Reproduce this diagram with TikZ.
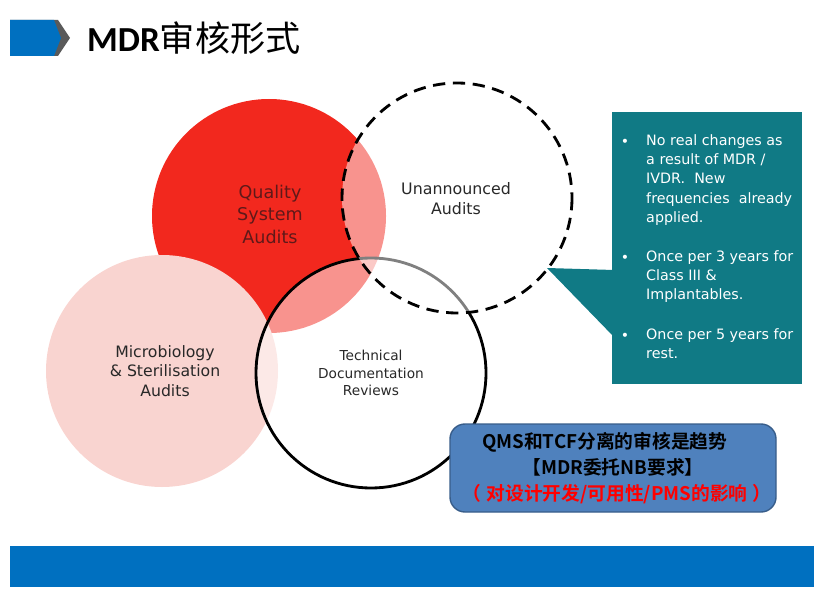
\documentclass[tikz,border=0pt]{standalone}
\usepackage{fontspec}
\setmainfont{DejaVu Sans}
\newfontfamily\cjk{Noto Sans CJK SC}[BoldFont={Noto Sans CJK SC Bold}]
\newfontfamily\carlito{Carlito}

\definecolor{titleblue}{RGB}{0,112,192}
\definecolor{chevgray}{RGB}{90,90,90}
\definecolor{qsared}{RGB}{242,40,30}
\definecolor{micpink}{RGB}{249,212,208}
\definecolor{infoteal}{RGB}{16,122,133}
\definecolor{notefill}{RGB}{79,129,189}
\definecolor{noteline}{RGB}{56,93,138}
\definecolor{textgray}{RGB}{40,40,40}
\definecolor{qsatext}{RGB}{95,25,25}

\begin{document}
\begin{tikzpicture}[x=0.03cm,y=-0.03cm,
    venntext/.style={align=center,inner sep=0pt,text=textgray,font=\fontsize{13.5}{17}\selectfont},
    infotext/.style={align=left,inner sep=0pt,text=white,font=\fontsize{12.2}{16.5}\selectfont},
    bulletdot/.style={inner sep=0pt,text=white,font=\fontsize{12}{12}\selectfont}]
\useasboundingbox (0,0) rectangle (820,595);
% title
\fill[chevgray] (10,20) -- (58,20) -- (70,38) -- (58,56) -- (10,56) -- cycle;
\fill[titleblue] (10,20) -- (54,20) -- (61,38) -- (54,56) -- (10,56) -- cycle;
\node[anchor=base west,inner sep=0pt,font=\fontsize{30}{36}\selectfont] (title) at (87,52)
    {{\carlito\bfseries MDR}{\cjk 审核形式}};
% circles
\fill[qsared] (269,216) circle (117);
\fill[micpink] (162,371) circle (116);
\filldraw[fill=white,fill opacity=0.5,draw=black,line width=2.4pt] (371,373) circle (115);
\filldraw[fill=white,fill opacity=0.5,draw=black,line width=2.4pt,
    dash pattern=on 10.5pt off 6.5pt] (457,198) circle (115);
\node[venntext,text=qsatext,font=\fontsize{15}{19.2}\selectfont] (qsa) at (270,214) {Quality\\System\\Audits};
\node[venntext] (ua) at (456,199) {Unannounced\\Audits};
\node[venntext,font=\fontsize{13.4}{16.6}\selectfont] (msa) at (165,371) {Microbiology\\\& Sterilisation\\Audits};
\node[venntext,font=\fontsize{11.7}{15}\selectfont] (tdr) at (371,373) {Technical\\Documentation\\Reviews};
% callout
\node[fill=infoteal,anchor=north west,minimum width=5.7cm,minimum height=8.16cm,inner sep=0pt] (info) at (612,112) {};
\coordinate (tip) at (547,268);
\fill[infoteal] (tip) -- (614,270) -- (614,337) -- cycle;
\node[infotext,anchor=north west] (g1) at (646,134)
    {No real changes as\\a result of MDR /\\IVDR.~ New\\frequencies~ already\\applied.};
\node[infotext,anchor=north west] (g2) at (646,250)
    {Once per 3 years for\\Class III \&\\Implantables.};
\node[infotext,anchor=north west] (g3) at (646,328)
    {Once per 5 years for\\rest.};
\node[bulletdot] (d1) at (625,143) {•};
\node[bulletdot] (d2) at (625,259) {•};
\node[bulletdot] (d3) at (625,337) {•};
% note
\node[draw=noteline,fill=notefill,line width=1.2pt,rounded corners=0.45cm,inner sep=2pt,
    minimum width=9.78cm,minimum height=2.64cm,align=center,
    font=\fontsize{16}{22.5}\selectfont\cjk\bfseries] (qms) at (613,468)
    {QMS和TCF分离的审核是趋势\hspace*{0.5cm}\\【MDR委托NB要求】\hspace*{0.5cm}\\
     \hspace*{0.25cm}\textcolor{red}{（\hspace{0.15cm}对设计开发/可用性/PMS的影响\hspace{0.15cm}）}};
% bottom bar
\fill[titleblue] (10,546) rectangle (814,587);
\end{tikzpicture}
\end{document}
